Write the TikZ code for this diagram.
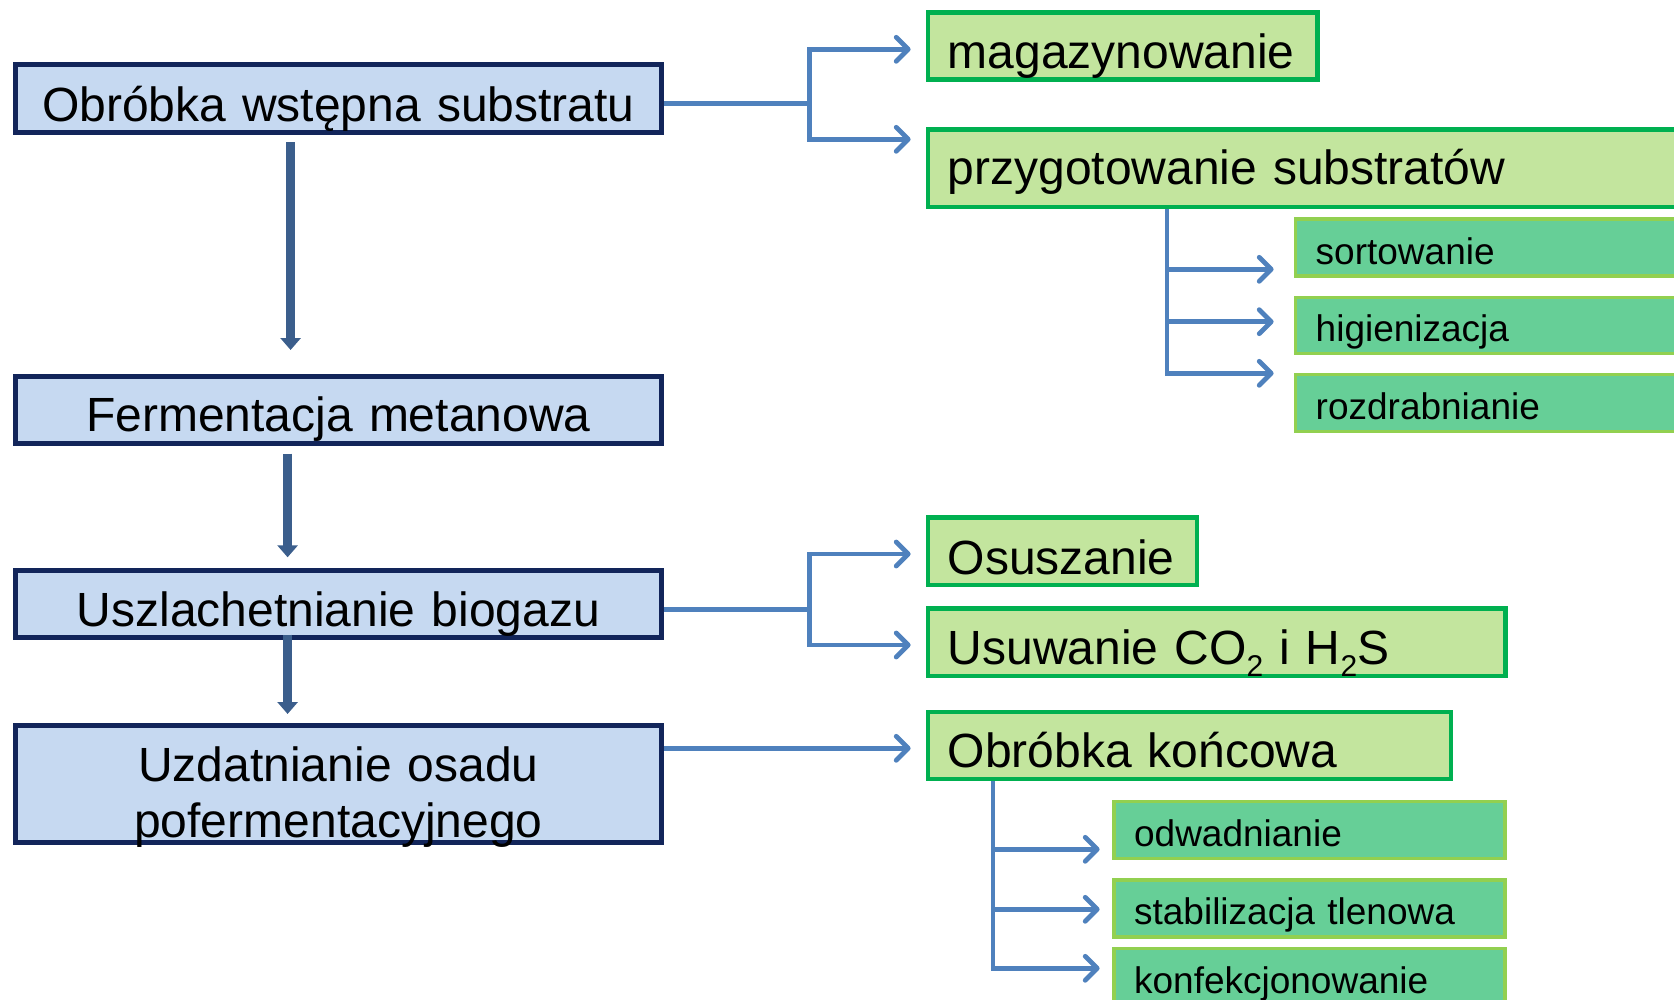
\documentclass[tikz,border=0pt]{standalone}
\usepackage{fontspec}
\setmainfont{Liberation Sans}
\usetikzlibrary{arrows.meta}

\definecolor{stageline}{HTML}{12255A}
\definecolor{stagefill}{HTML}{C6D9F1}
\definecolor{taskline}{HTML}{00B050}
\definecolor{taskfill}{HTML}{C3E59E}
\definecolor{subline}{HTML}{92D050}
\definecolor{subfill}{HTML}{66CF97}
\definecolor{linkblue}{HTML}{4F81BD}
\definecolor{flowblue}{HTML}{3B5E8C}

\newcommand\mainsize{\fontsize{24pt}{28pt}\selectfont}
\newcommand\minorsize{\fontsize{18.5pt}{22pt}\selectfont}
\newcommand\chemsub[1]{\raisebox{-6pt}{\fontsize{15pt}{15pt}\selectfont #1}}

\tikzset{
  stage/.style={draw=stageline, line width=2.6pt, fill=stagefill,
    inner xsep=0pt, inner ysep=0pt, text width=323pt, align=center,
    anchor=north west, font=\mainsize},
  task/.style={draw=taskline, line width=2.2pt, fill=taskfill,
    inner xsep=10pt, inner ysep=0pt, align=left,
    anchor=north west, font=\mainsize},
  subtask/.style={draw=subline, line width=1.7pt, fill=subfill,
    inner xsep=10pt, inner ysep=0pt, align=left,
    anchor=north west, font=\minorsize},
  link/.style={draw=linkblue, line width=2.4pt},
  linkarrow/.style={link, -{Straight Barb[length=6pt,width=12pt,round]}},
  flow/.style={draw=flowblue, line width=4.5pt,
    -{Triangle[length=6pt,width=10pt]}},
  box/.style n args={3}{text width=#1, text height=#2, text depth=#3},
}

\begin{document}
\begin{tikzpicture}[x=0.5pt, y=-0.5pt]
\useasboundingbox (0,0) rectangle (1674,1000);
\clip (0,0) rectangle (1674,1000);

% main process stages
\node[stage, text height=28.5pt, text depth=5.5pt] (b1) at (12.8,62)
  {Obróbka wstępna substratu};
\node[stage, text height=27.65pt, text depth=5.95pt] (b2) at (12.8,373.7)
  {Fermentacja metanowa};
\node[stage, text height=27.75pt, text depth=5.85pt] (b3) at (12.8,568)
  {Uszlachetnianie biogazu};
\node[stage, text height=28.1pt, text depth=30.6pt] (b4) at (12.8,722.8)
  {Uzdatnianie osadu\\pofermentacyjnego};

% operations of each stage
\node[task, box={174.85pt}{28pt}{5.5pt}] (mag) at (925.6,10.5) {magazynowanie};
\node[task, box={360pt}{27.5pt}{11.25pt}] (prz) at (925.6,127.5) {przygotowanie substratów};
\node[subtask, box={200pt}{22.75pt}{5.7pt}] (sort) at (1294,217.5) {sortowanie};
\node[subtask, box={200pt}{21.9pt}{6.35pt}] (hig) at (1294,295.5) {higienizacja};
\node[subtask, box={200pt}{22.3pt}{6.35pt}] (roz) at (1294,372.7) {rozdrabnianie};

\node[task, box={114.5pt}{28.25pt}{5.5pt}] (osu) at (925.6,515.3) {Osuszanie};
\node[task, box={268.8pt}{28.25pt}{5.4pt}] (usu) at (925.6,606.2)
  {Usuwanie CO\chemsub{2} i H\chemsub{2}S};

\node[task, box={241.55pt}{27.65pt}{5.85pt}] (ok) at (925.6,710) {Obróbka końcowa};
\node[subtask, box={175.4pt}{22.5pt}{6pt}] (odw) at (1112.4,800) {odwadnianie};
\node[subtask, box={175.4pt}{22.15pt}{6.35pt}] (stab) at (1112.4,878.2) {stabilizacja tlenowa};
\node[subtask, box={175.4pt}{22.35pt}{9.15pt}] (konf) at (1112.4,947) {konfekcjonowanie};

% flow between stages
\draw[flow] ([xshift=-23.9pt,yshift=-3.65pt]b1.south) -- ([xshift=-23.9pt,yshift=11.85pt]b2.north);
\draw[flow] ([xshift=-25.4pt,yshift=-3.7pt]b2.south) -- ([xshift=-25.4pt,yshift=5.35pt]b3.north);
\draw[flow] ([xshift=-25.4pt,yshift=2.95pt]b3.south) -- ([xshift=-25.4pt,yshift=4.4pt]b4.north);

% branches from the stages to their operations
\draw[link] ([yshift=-2.35pt]b1.east) -- ++(72.65pt,0) coordinate (j1);
\draw[linkarrow] (j1) |- ([xshift=-7.5pt,yshift=-19.4pt]mag.north west);
\draw[linkarrow] (j1) |- ([xshift=-7.5pt,yshift=-5.9pt]prz.north west);

\coordinate (s1) at ([xshift=120.7pt]prz.south west);
\draw[linkarrow] (s1) |- ([xshift=-10.2pt,yshift=-25.9pt]sort.north west);
\draw[linkarrow] (s1) |- ([xshift=-10.2pt,yshift=-13.1pt]hig.north west);
\draw[linkarrow] (s1) |- ([xshift=-10.2pt,yshift=-0.3pt]roz.north west);

\draw[link] ([yshift=-2.55pt]b3.east) -- ++(72.65pt,0) coordinate (j2);
\draw[linkarrow] (j2) |- ([xshift=-7.5pt,yshift=-19.35pt]osu.north west);
\draw[linkarrow] (j2) |- ([xshift=-7.5pt,yshift=-19.4pt]usu.north west);

\coordinate (t3) at ([xshift=-7.5pt,yshift=-19.15pt]ok.north west);
\draw[linkarrow] (t3 -| b4.east) -- (t3);

\coordinate (s2) at ([xshift=33.65pt]ok.south west);
\draw[linkarrow] (s2) |- ([xshift=-6.4pt,yshift=-24.65pt]odw.north west);
\draw[linkarrow] (s2) |- ([xshift=-6.4pt,yshift=-15.55pt]stab.north west);
\draw[linkarrow] (s2) |- ([xshift=-6.4pt,yshift=-10.65pt]konf.north west);
\end{tikzpicture}
\end{document}
